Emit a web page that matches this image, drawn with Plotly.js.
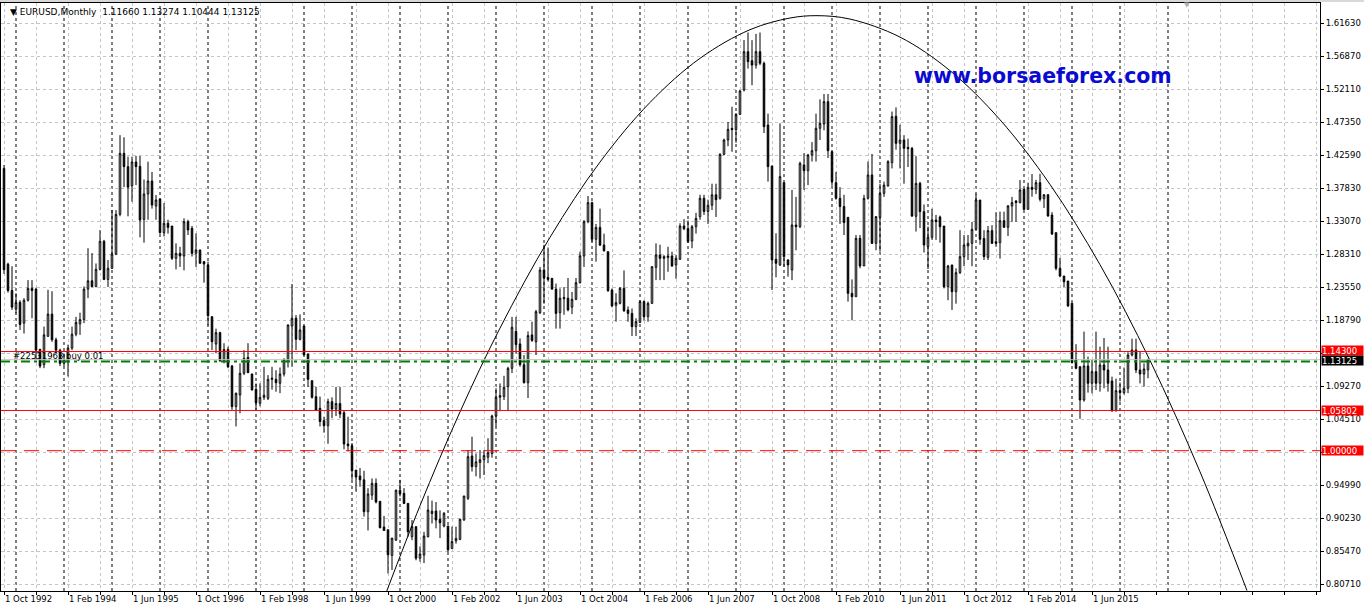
<!DOCTYPE html>
<html><head><meta charset="utf-8">
<script src="https://cdn.plot.ly/plotly-3.0.1.min.js"></script>
<style>html,body{margin:0;padding:0;background:#fff;}#chart{width:1364px;height:609px;}</style>
</head><body><div id="chart"></div>
<script>
// EURUSD monthly bars, first bar = Oct 1992, last bar = Aug 2016
const firstBarMonth = 9; // October (0-based)
const openP = [
1.407,1.269,1.231,1.204,1.214,1.184,1.217,1.234,1.233,1.146,
1.124,1.165,1.197,1.160,1.145,1.126,1.128,1.148,1.168,1.183,
1.189,1.233,1.245,1.2365,1.2615,1.302,1.247,1.263,1.2836,1.3408,
1.4288,1.4096,1.382,1.4163,1.410,1.3336,1.3702,1.3889,1.3528,1.363,
1.3144,1.3279,1.324,1.2774,1.2846,1.2808,1.3303,1.3207,1.2846,1.2894,
1.2726,1.2678,1.1933,1.1538,1.1702,1.1298,1.146,1.1222,1.0635,1.0803,
1.1116,1.1346,1.1106,1.0885,1.0683,1.0770,1.0755,1.1029,1.1029,1.0972,
1.1106,1.1284,1.1798,1.1909,1.1606,1.1798,1.1394,1.101,1.0779,1.0611,
1.0433,1.036,1.0707,1.060,1.068,1.0548,1.0097,1.007,0.972,0.9635,
0.958,0.912,0.936,0.953,0.927,0.890,0.886,0.849,0.871,0.943,
0.9385,0.924,0.876,0.8905,0.845,0.8495,0.876,0.9095,0.913,0.901,
0.8914,0.8914,0.859,0.870,0.8722,0.9001,0.9313,0.9924,0.977,0.983,
0.987,0.9905,0.996,1.050,1.077,1.078,1.0924,1.1188,1.172,1.154,
1.124,1.098,1.167,1.157,1.199,1.2605,1.250,1.2485,1.233,1.199,
1.219,1.220,1.207,1.2183,1.2423,1.2808,1.3303,1.3577,1.3048,1.322,
1.2966,1.2870,1.2317,1.2096,1.2125,1.2341,1.2029,1.198,1.1789,1.1851,
1.215,1.1933,1.2125,1.2644,1.2822,1.2774,1.2784,1.2808,1.2678,1.2760,
1.3240,1.3202,1.3024,1.323,1.3375,1.364,1.345,1.354,1.369,1.364,
1.4274,1.448,1.4648,1.463,1.485,1.5201,1.5754,1.5624,1.556,1.5754,
1.5586,1.4697,1.4106,1.2760,1.2678,1.3865,1.2750,1.2606,1.3255,1.323,
1.412,1.4038,1.4264,1.4326,1.4649,1.4711,1.5033,1.4312,1.3865,1.364,
1.352,1.3365,1.2269,1.222,1.3062,1.2664,1.364,1.3976,1.299,1.3365,
1.3711,1.3817,1.4153,1.4822,1.4432,1.448,1.4374,1.436,1.338,1.3855,
1.3447,1.2945,1.3077,1.3327,1.337,1.3240,1.2365,1.2678,1.2293,1.2567,
1.2798,1.2952,1.299,1.3192,1.3615,1.306,1.2788,1.3173,1.3014,1.3000,
1.3317,1.3221,1.3529,1.3600,1.3577,1.377,1.348,1.3798,1.3769,1.3865,
1.3634,1.3690,1.3398,1.3144,1.2630,1.2519,1.2447,1.2125,1.1317,1.1212,
1.0731,1.1222,1.0972,1.1140,1.0972,1.1236,1.1164,1.1005,1.0577,1.0866,
1.0837,1.0899,1.1380,1.1452,1.1164,1.1106,1.11660];
const highP = [
1.412,1.271,1.266,1.227,1.217,1.220,1.246,1.246,1.235,1.147,
1.179,1.232,1.230,1.163,1.147,1.140,1.153,1.179,1.193,1.199,
1.237,1.292,1.285,1.270,1.318,1.304,1.275,1.347,1.347,1.455,
1.452,1.424,1.424,1.425,1.425,1.391,1.4168,1.402,1.3687,1.363,
1.357,1.333,1.324,1.299,1.294,1.335,1.333,1.324,1.3134,1.290,
1.2736,1.2726,1.1933,1.176,1.1716,1.155,1.150,1.1236,1.084,1.126,
1.145,1.155,1.111,1.097,1.097,1.121,1.109,1.121,1.116,1.120,
1.133,1.182,1.2404,1.1956,1.1966,1.180,1.1394,1.101,1.092,1.078,
1.049,1.075,1.077,1.092,1.092,1.058,1.049,1.011,0.972,0.975,
0.971,0.946,0.960,0.960,0.927,0.906,0.886,0.874,0.944,0.958,
0.946,0.924,0.900,0.8905,0.862,0.883,0.935,0.928,0.926,0.914,
0.9115,0.8914,0.8905,0.8905,0.902,0.9347,1.001,1.0202,0.996,1.001,
1.001,1.018,1.052,1.090,1.097,1.108,1.121,1.193,1.193,1.162,
1.138,1.172,1.186,1.203,1.265,1.297,1.293,1.249,1.241,1.234,
1.236,1.249,1.229,1.249,1.287,1.3326,1.3673,1.359,1.327,1.349,
1.313,1.287,1.234,1.227,1.236,1.260,1.208,1.205,1.191,1.217,
1.217,1.215,1.2654,1.299,1.297,1.282,1.294,1.287,1.282,1.328,
1.334,1.332,1.3255,1.343,1.369,1.369,1.362,1.385,1.385,1.429,
1.450,1.474,1.496,1.4868,1.520,1.5922,1.603,1.592,1.601,1.603,
1.561,1.486,1.4106,1.3135,1.472,1.3865,1.2760,1.376,1.366,1.4168,
1.429,1.428,1.445,1.486,1.5067,1.5144,1.5144,1.4312,1.402,1.380,
1.369,1.3365,1.247,1.311,1.311,1.369,1.417,1.428,1.337,1.385,
1.388,1.419,1.489,1.4951,1.470,1.455,1.450,1.438,1.4247,1.3877,
1.355,1.3234,1.349,1.340,1.339,1.3240,1.268,1.268,1.263,1.318,
1.311,1.311,1.330,1.3702,1.3615,1.318,1.324,1.3252,1.344,1.3447,
1.3447,1.3543,1.366,1.3615,1.3904,1.378,1.3865,1.399,1.3905,1.3993,
1.3700,1.3700,1.3440,1.3144,1.2780,1.2519,1.2447,1.2125,1.1536,1.1212,
1.1717,1.1356,1.1308,1.1717,1.1500,1.1625,1.1500,1.1068,1.1040,1.0985,
1.1200,1.1420,1.1615,1.1615,1.1427,1.1260,1.13274];
const lowP = [
1.255,1.228,1.203,1.198,1.174,1.169,1.215,1.191,1.131,1.119,
1.119,1.164,1.157,1.140,1.122,1.122,1.107,1.145,1.165,1.167,
1.184,1.220,1.236,1.236,1.260,1.246,1.236,1.262,1.282,1.338,
1.380,1.338,1.359,1.383,1.3077,1.300,1.333,1.349,1.333,1.313,
1.309,1.313,1.275,1.2615,1.265,1.260,1.311,1.280,1.265,1.270,
1.2423,1.181,1.145,1.1404,1.128,1.126,1.119,1.059,1.035,1.054,
1.109,1.112,1.087,1.059,1.064,1.073,1.073,1.088,1.085,1.083,
1.107,1.120,1.121,1.145,1.159,1.138,1.092,1.075,1.058,1.035,
1.026,1.010,1.047,1.050,1.047,1.002,0.999,0.958,0.941,0.948,
0.905,0.885,0.929,0.924,0.888,0.885,0.823,0.828,0.870,0.934,
0.923,0.876,0.871,0.842,0.840,0.838,0.875,0.895,0.888,0.874,
0.8895,0.854,0.859,0.866,0.871,0.899,0.929,0.970,0.963,0.960,
0.965,0.982,0.990,1.035,1.057,1.073,1.058,1.112,1.140,1.121,
1.097,1.076,1.157,1.138,1.197,1.212,1.244,1.232,1.176,1.176,
1.196,1.201,1.197,1.217,1.241,1.265,1.328,1.301,1.2726,1.295,
1.287,1.229,1.2067,1.186,1.211,1.200,1.186,1.1654,1.1654,1.184,
1.188,1.186,1.2115,1.246,1.246,1.246,1.258,1.265,1.248,1.275,
1.318,1.300,1.292,1.313,1.333,1.340,1.327,1.347,1.337,1.362,
1.426,1.439,1.431,1.444,1.484,1.518,1.551,1.527,1.551,1.556,
1.458,1.388,1.2317,1.250,1.2665,1.2654,1.251,1.246,1.289,1.321,
1.376,1.383,1.417,1.417,1.448,1.462,1.422,1.382,1.362,1.327,
1.311,1.215,1.188,1.222,1.263,1.2664,1.362,1.298,1.289,1.287,
1.366,1.381,1.407,1.434,1.407,1.385,1.409,1.337,1.316,1.321,
1.2858,1.262,1.304,1.304,1.300,1.234,1.217,1.203,1.212,1.255,
1.266,1.275,1.266,1.319,1.297,1.275,1.275,1.2981,1.294,1.277,
1.322,1.3096,1.330,1.330,1.3567,1.3471,1.348,1.3663,1.3700,1.3595,
1.3500,1.3375,1.3110,1.2600,1.2500,1.2360,1.2075,1.1260,1.1174,1.0460,
1.0707,1.0837,1.0827,1.0875,1.0852,1.0900,1.0852,1.0560,1.0565,1.0710,
1.0810,1.0830,1.1360,1.1120,1.0970,1.0924,1.10444];
const closeP = [
1.261,1.231,1.207,1.2135,1.182,1.217,1.234,1.231,1.145,1.122,
1.167,1.197,1.160,1.145,1.126,1.131,1.148,1.168,1.185,1.189,
1.233,1.245,1.2365,1.2615,1.302,1.247,1.263,1.2836,1.3408,1.4288,
1.4096,1.380,1.4163,1.4096,1.3327,1.3702,1.3889,1.3543,1.3615,1.3144,
1.3279,1.322,1.2774,1.2846,1.2808,1.3303,1.3183,1.2846,1.2894,1.2702,
1.2692,1.1947,1.1572,1.1702,1.1298,1.146,1.121,1.0635,1.0827,1.1116,
1.1332,1.1125,1.0875,1.0693,1.0770,1.080,1.1029,1.1044,1.098,1.1106,
1.1318,1.1813,1.1909,1.1606,1.174,1.138,1.1029,1.077,1.0587,1.042,
1.036,1.0707,1.060,1.068,1.053,1.0097,1.007,0.971,0.962,0.958,
0.912,0.9376,0.953,0.926,0.889,0.885,0.850,0.874,0.943,0.938,
0.924,0.883,0.8905,0.845,0.851,0.877,0.9145,0.9127,0.900,0.896,
0.9097,0.857,0.869,0.8735,0.9011,0.9347,0.9914,0.977,0.984,0.987,
0.993,0.997,1.050,1.077,1.0795,1.0914,1.1188,1.178,1.153,1.124,
1.098,1.166,1.159,1.2005,1.2605,1.249,1.247,1.233,1.198,1.220,
1.221,1.203,1.2183,1.2423,1.281,1.3302,1.3577,1.3048,1.322,1.2966,
1.2884,1.2308,1.2087,1.2135,1.2341,1.2019,1.198,1.1789,1.1861,1.215,
1.1933,1.2125,1.2654,1.2822,1.2774,1.2798,1.2808,1.2664,1.2774,1.3240,
1.320,1.3014,1.323,1.335,1.364,1.345,1.354,1.369,1.362,1.4274,
1.448,1.4634,1.463,1.485,1.5187,1.5754,1.561,1.556,1.5754,1.5586,
1.4673,1.4096,1.2750,1.2702,1.3952,1.2798,1.2678,1.3255,1.323,1.4144,
1.4038,1.4264,1.4326,1.4649,1.472,1.5033,1.4326,1.388,1.364,1.352,
1.329,1.2269,1.222,1.3062,1.2664,1.364,1.3976,1.299,1.3375,1.3711,
1.383,1.4168,1.4817,1.4432,1.448,1.436,1.4355,1.3384,1.3855,1.3447,
1.2966,1.3077,1.3327,1.3303,1.3230,1.2365,1.2663,1.2293,1.2567,1.2798,
1.2966,1.299,1.3192,1.3615,1.3048,1.2798,1.3173,1.2990,1.299,1.3317,
1.3221,1.3529,1.3577,1.3577,1.3760,1.348,1.3798,1.3769,1.3865,1.3625,
1.3690,1.3384,1.3125,1.2630,1.2519,1.2437,1.2087,1.1269,1.1188,1.0731,
1.1222,1.0972,1.1140,1.0972,1.1236,1.1164,1.0972,1.0577,1.0866,1.0837,
1.0899,1.1380,1.1452,1.1164,1.1106,1.1178,1.13125];

// bottom axis labels (one every 16 bars, starting with the first bar)
const dateLabels = ["1 Oct 1992","1 Feb 1994","1 Jun 1995","1 Oct 1996","1 Feb 1998","1 Jun 1999",
  "1 Oct 2000","1 Feb 2002","1 Jun 2003","1 Oct 2004","1 Feb 2006","1 Jun 2007","1 Oct 2008",
  "1 Feb 2010","1 Jun 2011","1 Oct 2012","1 Feb 2014","1 Jun 2015"];
// right axis price labels
const priceTicks = [0.80710,0.85470,0.90230,0.94990,0.99750,1.04510,1.09270,1.14030,1.18790,
  1.23550,1.28310,1.33070,1.37830,1.42590,1.47350,1.52110,1.56870,1.61630];
// horizontal levels
const redLevel1 = 1.14300, redLevel2 = 1.05802, parityLevel = 1.00000;
const bidPrice = 1.13125, orderPrice = 1.1285;
const orderLabel = "#22531963 buy 0.01";
const header = "EURUSD,Monthly  1.11660 1.13274 1.10444 1.13125";
// hand-drawn arc (bar index, price)
const arcBar = [95.7,104.0,114.0,124.0,136.5,149.0,161.5,174.0,186.5,196.5,203.25,211.5,224.0,236.5,249.0,261.5,274.0,286.5,299.0,310.75];
const arcPrice = [0.7977,0.9207,1.0559,1.1768,1.3077,1.4162,1.5022,1.5658,1.6071,1.6239,1.6273,1.6224,1.5964,1.5480,1.4772,1.3839,1.2682,1.1301,0.9696,0.7983];

const barIndex = closeP.map((_, i) => i);
const XMAX = 329;

// ticks every 8 bars, labels every 16
const xTickVals = [], xTickText = [];
for (let v = 0; v <= 328; v += 8) {
  xTickVals.push(v);
  const k = v / 16;
  xTickText.push(Number.isInteger(k) && k < dateLabels.length ? dateLabels[k] : "");
}
// yearly separators (January bars)
const sepIdx = [];
for (let i = 0; i <= 292; i++) if ((firstBarMonth + i) % 12 === 0) sepIdx.push(i);

// price labels hidden under the level boxes (as on the original)
const boxLevels = [redLevel1, bidPrice, redLevel2, parityLevel];
const yTickText = priceTicks.map(v => boxLevels.some(b => Math.abs(b - v) < 0.0065) ? "" : v.toFixed(5));

const F = "DejaVu Sans";
const GRID = '#c4c4c4';
const shapes = [];
sepIdx.forEach(i => shapes.push({type:'line', xref:'x', yref:'paper', x0:i, x1:i, y0:0, y1:1,
  line:{color:'#000', width:1, dash:'3px,3px'}, layer:'between'}));
shapes.push({type:'line', xref:'paper', yref:'y', x0:0, x1:1, y0:bidPrice, y1:bidPrice, line:{color:'#c0c0c0', width:1}});
shapes.push({type:'line', xref:'paper', yref:'y', x0:0, x1:1, y0:orderPrice, y1:orderPrice, line:{color:'#008000', width:2, dash:'9px,4px,3px,4px'}});
shapes.push({type:'line', xref:'paper', yref:'y', x0:0, x1:1, y0:redLevel1, y1:redLevel1, line:{color:'#ff0000', width:1}});
shapes.push({type:'line', xref:'paper', yref:'y', x0:0, x1:1, y0:redLevel2, y1:redLevel2, line:{color:'#ff0000', width:1}});
shapes.push({type:'line', xref:'paper', yref:'y', x0:0, x1:1, y0:parityLevel, y1:parityLevel, line:{color:'#ff0000', width:1, dash:'15px,8px'}});
shapes.push({type:'rect', xref:'paper', yref:'paper', x0:-0.01, x1:1.05, y0:1.0017, y1:1.02, fillcolor:'#d8d8d8', line:{width:0}});

function box(price, bg, shift) {
  return {xref:'paper', yref:'y', x:1, xanchor:'left', xshift:1, y:price, yanchor:'middle', yshift:shift,
    text:price.toFixed(5), showarrow:false, bgcolor:bg, borderpad:0, width:41, height:9, align:'left',
    font:{family:F, size:8.5, color:'#fff'}};
}
const annotations = [
  box(redLevel1, '#ff0000', 1), box(bidPrice, '#000', -1), box(redLevel2, '#ff0000', 0), box(parityLevel, '#ff0000', 0),
  {xref:'paper', yref:'paper', x:0, xanchor:'left', xshift:7, y:1, yanchor:'top', yshift:-2,
   text:'▼ ' + header, showarrow:false, font:{family:F, size:9, color:'#000'}},
  {xref:'paper', yref:'y', x:0, xanchor:'left', xshift:10, y:orderPrice, yanchor:'bottom', yshift:-1,
   text:orderLabel, showarrow:false, font:{family:F, size:8.5, color:'#000'}},
  {xref:'paper', yref:'paper', x:0.790, xanchor:'center', y:0.876, yanchor:'middle',
   text:'<b>www.borsaeforex.com</b>', showarrow:false, font:{family:'DejaVu Sans', size:20.5, color:'#0a0ad0'}},
  {xref:'x', yref:'paper', x:295.75, y:1, yanchor:'middle', yshift:-2, text:'▼', showarrow:false,
   font:{family:F, size:7, color:'#b0b0b0'}}
];

const traces = [
  {type:'candlestick', x:barIndex, open:openP, high:highP, low:lowP, close:closeP,
   increasing:{line:{color:'#000', width:1}, fillcolor:'#ffffff'},
   decreasing:{line:{color:'#000', width:1}, fillcolor:'#000000'},
   whiskerwidth:0, hoverinfo:'skip', showlegend:false},
  {type:'scatter', mode:'lines', x:arcBar, y:arcPrice, line:{color:'#000', width:1, shape:'spline'},
   hoverinfo:'skip', showlegend:false}
];

const layout = {
  width:1364, height:609, margin:{l:1, r:44, t:3, b:18},
  paper_bgcolor:'#fff', plot_bgcolor:'#fff', showlegend:false, boxgap:0.45,
  font:{family:F, size:8.5, color:'#000'},
  xaxis:{range:[-0.75, XMAX], tickmode:'array', tickvals:xTickVals, ticktext:xTickText,
    ticklabelposition:'outside right', ticks:'outside', ticklen:3, tickcolor:'#000',
    showgrid:true, gridcolor:GRID, griddash:'3px,3px', gridwidth:1, zeroline:false,
    showline:true, linecolor:'#000', linewidth:1, mirror:true, rangeslider:{visible:false},
    tickfont:{family:F, size:8.5, color:'#000'}, fixedrange:true},
  yaxis:{side:'right', range:[0.79769, 1.64557], tickmode:'array', tickvals:priceTicks,
    ticktext:yTickText, ticks:'outside', ticklen:3, tickcolor:'#000',
    showgrid:true, gridcolor:GRID, griddash:'3px,3px', gridwidth:1, zeroline:false,
    showline:true, linecolor:'#000', linewidth:1, mirror:true,
    tickfont:{family:F, size:8.5, color:'#000'}, fixedrange:true},
  shapes:shapes, annotations:annotations
};
Plotly.newPlot('chart', traces, layout, {displayModeBar:false, staticPlot:true});
</script></body></html>
